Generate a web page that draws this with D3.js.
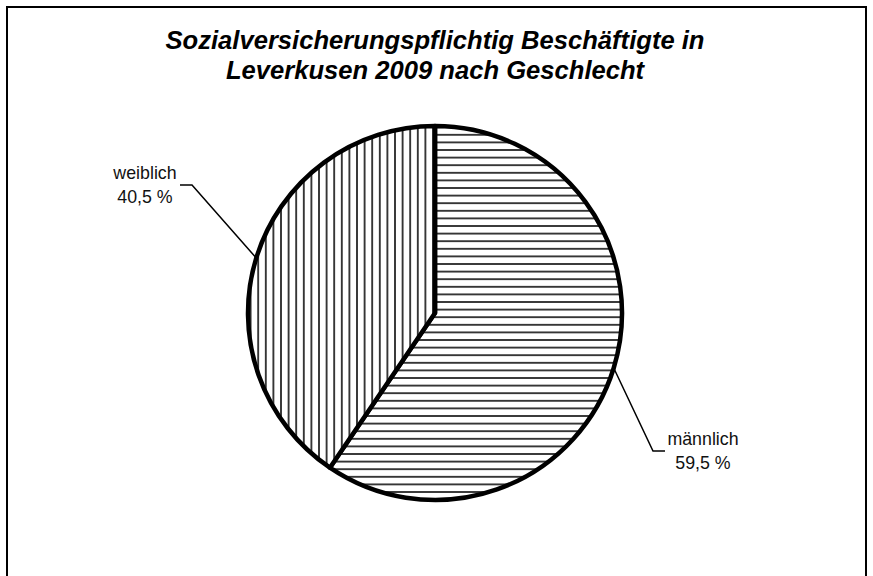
<!DOCTYPE html>
<html>
<head>
<meta charset="utf-8">
<script src="https://cdn.jsdelivr.net/npm/d3@7"></script>
<style>
  html, body { margin: 0; padding: 0; background: #fff; }
  svg { display: block; font-family: "Liberation Sans", Arial, sans-serif; }
</style>
</head>
<body>
<svg id="chart"></svg>
<script>
const titleLines = ['Sozialversicherungspflichtig Beschäftigte in', 'Leverkusen 2009 nach Geschlecht']
const categories = ['männlich', 'weiblich']
const shares = [59.5, 40.5]
const valueLabels = ['59,5 %', '40,5 %']

const width = 873
const height = 576
const cx = 435
const cy = 313
const radius = 187
// where the label text sits and where the leader line bends (manually placed, like in the original)
const labelLayout = [
  {x: 703, y: 445, elbow: [653, 451], end: [665, 451]},
  {x: 145, y: 179, elbow: [192, 185], end: [180, 185]}
]

const svg = d3.select('#chart')
  .attr('width', width)
  .attr('height', height)

const defs = svg.append('defs')
const addHatch = (id, vertical) => {
  const step = 7.6
  const p = defs.append('pattern')
    .attr('id', id)
    .attr('patternUnits', 'userSpaceOnUse')
    .attr('width', step)
    .attr('height', step)
    .attr('x', vertical ? cx : 0)
    .attr('y', vertical ? 0 : cy - 1)
  p.append('rect').attr('width', step).attr('height', step).attr('fill', '#fff')
  p.append('line')
    .attr('x1', vertical ? step / 2 : 0)
    .attr('x2', vertical ? step / 2 : step)
    .attr('y1', vertical ? 0 : step / 2)
    .attr('y2', vertical ? step : step / 2)
    .attr('stroke', '#000')
    .attr('stroke-width', 1.5)
}
addHatch('hatch-h', false)
addHatch('hatch-v', true)
const fills = ['url(#hatch-h)', 'url(#hatch-v)']

// frame
svg.append('rect')
  .attr('x', 7).attr('y', 7)
  .attr('width', 859).attr('height', 590)
  .attr('fill', 'none')
  .attr('stroke', '#000')
  .attr('stroke-width', 2)

// title
svg.append('text')
  .attr('x', cx)
  .attr('text-anchor', 'middle')
  .style('font-size', '25.6px')
  .style('font-weight', 'bold')
  .style('font-style', 'italic')
  .selectAll('tspan')
  .data(titleLines)
  .enter()
  .append('tspan')
    .attr('x', cx)
    .attr('y', (d, i) => 49 + i * 30)
    .text(d => d)

const pie = d3.pie().sort(null).value(d => d)
const arcs = pie(shares)
const arc = d3.arc().innerRadius(0).outerRadius(radius)

const g = svg.append('g').attr('transform', `translate(${cx},${cy})`)

g.selectAll('path.slice')
  .data(arcs)
  .enter()
  .append('path')
    .attr('class', 'slice')
    .attr('d', arc)
    .attr('fill', (d, i) => fills[i])
    .attr('stroke', '#000')
    .attr('stroke-width', 4.5)
    .attr('stroke-linejoin', 'round')

// leader lines, starting on the rim at the middle of each slice
const rimPoint = d => {
  const a = (d.startAngle + d.endAngle) / 2
  return [cx + radius * Math.sin(a), cy - radius * Math.cos(a)]
}
const line = d3.line()
svg.selectAll('path.leader')
  .data(arcs)
  .enter()
  .append('path')
    .attr('class', 'leader')
    .attr('d', (d, i) => line([rimPoint(d), labelLayout[i].elbow, labelLayout[i].end]))
    .attr('fill', 'none')
    .attr('stroke', '#000')
    .attr('stroke-width', 1.5)

const labels = svg.selectAll('text.label')
  .data(arcs)
  .enter()
  .append('text')
    .attr('class', 'label')
    .attr('text-anchor', 'middle')
    .style('font-size', '17.8px')
    .style('fill', '#111')

labels.append('tspan')
  .attr('x', (d, i) => labelLayout[i].x)
  .attr('y', (d, i) => labelLayout[i].y)
  .text((d, i) => categories[i])
labels.append('tspan')
  .attr('x', (d, i) => labelLayout[i].x)
  .attr('y', (d, i) => labelLayout[i].y + 24)
  .text((d, i) => valueLabels[i])
</script>
</body>
</html>
